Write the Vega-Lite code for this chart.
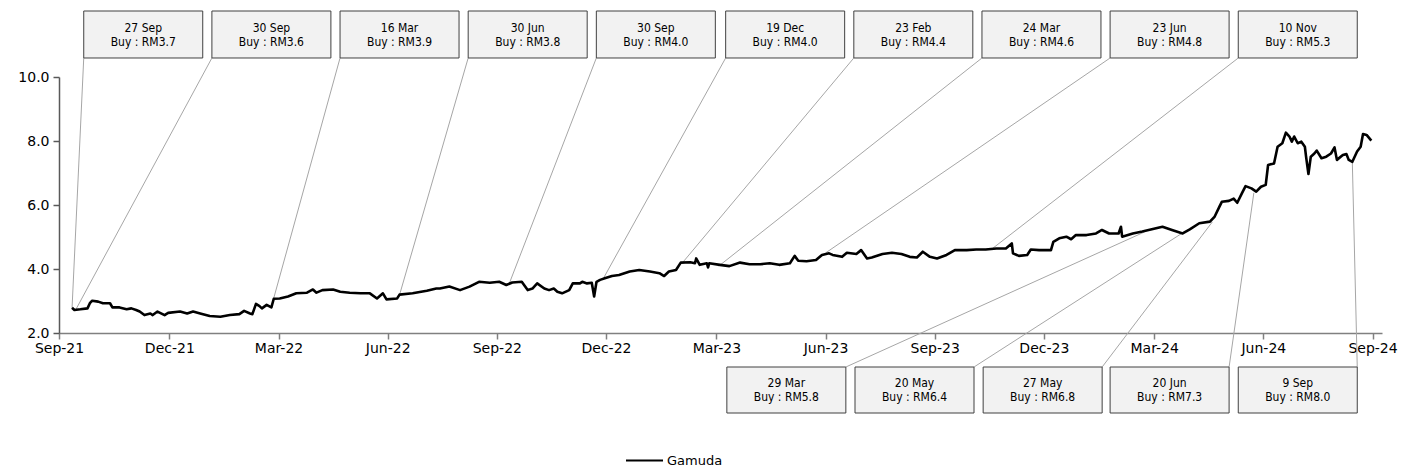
{
  "$schema": "https://vega.github.io/schema/vega-lite/v6.json",
  "width": 1323,
  "height": 256,
  "autosize": {"type": "none"},
  "padding": {"left": 59, "top": 77, "right": 21, "bottom": 135},
  "background": "white",
  "config": {"view": {"stroke": null}, "font": "DejaVu Sans"},
  "datasets": {
    "prices": [
      {"date": "2021-09-27", "price": 2.79}, {"date": "2021-09-29", "price": 2.72}, {"date": "2021-10-04", "price": 2.74},
      {"date": "2021-10-10", "price": 2.77}, {"date": "2021-10-12", "price": 2.93}, {"date": "2021-10-14", "price": 3.01},
      {"date": "2021-10-19", "price": 2.98}, {"date": "2021-10-23", "price": 2.93}, {"date": "2021-10-29", "price": 2.93},
      {"date": "2021-10-31", "price": 2.80}, {"date": "2021-11-06", "price": 2.80}, {"date": "2021-11-12", "price": 2.74},
      {"date": "2021-11-16", "price": 2.77}, {"date": "2021-11-20", "price": 2.72}, {"date": "2021-11-23", "price": 2.67},
      {"date": "2021-11-27", "price": 2.56}, {"date": "2021-12-02", "price": 2.61}, {"date": "2021-12-04", "price": 2.56},
      {"date": "2021-12-08", "price": 2.67}, {"date": "2021-12-14", "price": 2.56}, {"date": "2021-12-17", "price": 2.63},
      {"date": "2021-12-27", "price": 2.67}, {"date": "2022-01-02", "price": 2.61}, {"date": "2022-01-07", "price": 2.67},
      {"date": "2022-01-13", "price": 2.61}, {"date": "2022-01-21", "price": 2.53}, {"date": "2022-01-30", "price": 2.51},
      {"date": "2022-02-07", "price": 2.56}, {"date": "2022-02-15", "price": 2.59}, {"date": "2022-02-19", "price": 2.69},
      {"date": "2022-02-24", "price": 2.61}, {"date": "2022-02-26", "price": 2.59}, {"date": "2022-03-01", "price": 2.91},
      {"date": "2022-03-04", "price": 2.84}, {"date": "2022-03-06", "price": 2.77}, {"date": "2022-03-10", "price": 2.88},
      {"date": "2022-03-14", "price": 2.80}, {"date": "2022-03-16", "price": 3.07}, {"date": "2022-03-21", "price": 3.08},
      {"date": "2022-03-28", "price": 3.14}, {"date": "2022-04-04", "price": 3.24}, {"date": "2022-04-13", "price": 3.26},
      {"date": "2022-04-18", "price": 3.36}, {"date": "2022-04-21", "price": 3.26}, {"date": "2022-04-26", "price": 3.34},
      {"date": "2022-05-05", "price": 3.36}, {"date": "2022-05-11", "price": 3.29}, {"date": "2022-05-19", "price": 3.26},
      {"date": "2022-05-28", "price": 3.24}, {"date": "2022-06-05", "price": 3.24}, {"date": "2022-06-11", "price": 3.08},
      {"date": "2022-06-16", "price": 3.24}, {"date": "2022-06-19", "price": 3.05}, {"date": "2022-06-28", "price": 3.08},
      {"date": "2022-06-30", "price": 3.20}, {"date": "2022-07-11", "price": 3.24}, {"date": "2022-07-23", "price": 3.32},
      {"date": "2022-07-31", "price": 3.39}, {"date": "2022-08-03", "price": 3.39}, {"date": "2022-08-11", "price": 3.45},
      {"date": "2022-08-20", "price": 3.34}, {"date": "2022-08-28", "price": 3.45}, {"date": "2022-09-05", "price": 3.60},
      {"date": "2022-09-14", "price": 3.57}, {"date": "2022-09-22", "price": 3.60}, {"date": "2022-09-28", "price": 3.50},
      {"date": "2022-10-03", "price": 3.58}, {"date": "2022-10-11", "price": 3.60}, {"date": "2022-10-16", "price": 3.34},
      {"date": "2022-10-20", "price": 3.39}, {"date": "2022-10-24", "price": 3.55}, {"date": "2022-10-30", "price": 3.39},
      {"date": "2022-11-03", "price": 3.34}, {"date": "2022-11-07", "price": 3.39}, {"date": "2022-11-10", "price": 3.29},
      {"date": "2022-11-14", "price": 3.24}, {"date": "2022-11-20", "price": 3.34}, {"date": "2022-11-23", "price": 3.55},
      {"date": "2022-11-29", "price": 3.55}, {"date": "2022-12-01", "price": 3.60}, {"date": "2022-12-05", "price": 3.55},
      {"date": "2022-12-09", "price": 3.57}, {"date": "2022-12-11", "price": 3.14}, {"date": "2022-12-13", "price": 3.60},
      {"date": "2022-12-16", "price": 3.66}, {"date": "2022-12-20", "price": 3.71}, {"date": "2022-12-26", "price": 3.78},
      {"date": "2023-01-01", "price": 3.81}, {"date": "2023-01-10", "price": 3.92}, {"date": "2023-01-18", "price": 3.97},
      {"date": "2023-01-27", "price": 3.92}, {"date": "2023-02-04", "price": 3.87}, {"date": "2023-02-08", "price": 3.78},
      {"date": "2023-02-12", "price": 3.92}, {"date": "2023-02-18", "price": 3.97}, {"date": "2023-02-22", "price": 4.20},
      {"date": "2023-03-02", "price": 4.21}, {"date": "2023-03-06", "price": 4.18}, {"date": "2023-03-07", "price": 4.33},
      {"date": "2023-03-10", "price": 4.13}, {"date": "2023-03-16", "price": 4.18}, {"date": "2023-03-17", "price": 4.05},
      {"date": "2023-03-18", "price": 4.18}, {"date": "2023-03-27", "price": 4.13}, {"date": "2023-04-04", "price": 4.09},
      {"date": "2023-04-13", "price": 4.20}, {"date": "2023-04-21", "price": 4.15}, {"date": "2023-04-30", "price": 4.15},
      {"date": "2023-05-08", "price": 4.18}, {"date": "2023-05-16", "price": 4.13}, {"date": "2023-05-25", "price": 4.18},
      {"date": "2023-05-29", "price": 4.41}, {"date": "2023-06-01", "price": 4.26}, {"date": "2023-06-08", "price": 4.24},
      {"date": "2023-06-16", "price": 4.28}, {"date": "2023-06-21", "price": 4.44}, {"date": "2023-06-27", "price": 4.49},
      {"date": "2023-06-30", "price": 4.44}, {"date": "2023-07-08", "price": 4.38}, {"date": "2023-07-12", "price": 4.51},
      {"date": "2023-07-20", "price": 4.47}, {"date": "2023-07-24", "price": 4.59}, {"date": "2023-07-29", "price": 4.33},
      {"date": "2023-08-02", "price": 4.36}, {"date": "2023-08-11", "price": 4.47}, {"date": "2023-08-19", "price": 4.51},
      {"date": "2023-08-27", "price": 4.47}, {"date": "2023-09-03", "price": 4.38}, {"date": "2023-09-09", "price": 4.36},
      {"date": "2023-09-14", "price": 4.54}, {"date": "2023-09-20", "price": 4.38}, {"date": "2023-09-26", "price": 4.33},
      {"date": "2023-10-04", "price": 4.44}, {"date": "2023-10-11", "price": 4.59}, {"date": "2023-10-21", "price": 4.59},
      {"date": "2023-10-29", "price": 4.61}, {"date": "2023-11-06", "price": 4.61}, {"date": "2023-11-15", "price": 4.64},
      {"date": "2023-11-23", "price": 4.64}, {"date": "2023-11-28", "price": 4.80}, {"date": "2023-11-29", "price": 4.49},
      {"date": "2023-12-04", "price": 4.41}, {"date": "2023-12-11", "price": 4.44}, {"date": "2023-12-14", "price": 4.61},
      {"date": "2023-12-21", "price": 4.59}, {"date": "2023-12-31", "price": 4.59}, {"date": "2024-01-02", "price": 4.85},
      {"date": "2024-01-07", "price": 4.96}, {"date": "2024-01-13", "price": 5.01}, {"date": "2024-01-17", "price": 4.93},
      {"date": "2024-01-21", "price": 5.06}, {"date": "2024-01-30", "price": 5.06}, {"date": "2024-02-07", "price": 5.11},
      {"date": "2024-02-12", "price": 5.22}, {"date": "2024-02-18", "price": 5.11}, {"date": "2024-02-26", "price": 5.11},
      {"date": "2024-02-28", "price": 5.32}, {"date": "2024-02-29", "price": 5.01}, {"date": "2024-03-09", "price": 5.11},
      {"date": "2024-03-17", "price": 5.17}, {"date": "2024-03-25", "price": 5.24}, {"date": "2024-04-03", "price": 5.32},
      {"date": "2024-04-11", "price": 5.22}, {"date": "2024-04-20", "price": 5.11}, {"date": "2024-04-26", "price": 5.24},
      {"date": "2024-05-04", "price": 5.43}, {"date": "2024-05-13", "price": 5.48}, {"date": "2024-05-17", "price": 5.64},
      {"date": "2024-05-21", "price": 5.95}, {"date": "2024-05-23", "price": 6.10}, {"date": "2024-05-29", "price": 6.13},
      {"date": "2024-06-02", "price": 6.20}, {"date": "2024-06-05", "price": 6.07}, {"date": "2024-06-09", "price": 6.37},
      {"date": "2024-06-12", "price": 6.59}, {"date": "2024-06-17", "price": 6.52}, {"date": "2024-06-21", "price": 6.42},
      {"date": "2024-06-25", "price": 6.57}, {"date": "2024-06-29", "price": 6.63}, {"date": "2024-07-01", "price": 7.25},
      {"date": "2024-07-06", "price": 7.30}, {"date": "2024-07-09", "price": 7.82}, {"date": "2024-07-13", "price": 7.93},
      {"date": "2024-07-16", "price": 8.26}, {"date": "2024-07-19", "price": 8.14}, {"date": "2024-07-21", "price": 7.98},
      {"date": "2024-07-23", "price": 8.14}, {"date": "2024-07-26", "price": 7.93}, {"date": "2024-07-29", "price": 7.98},
      {"date": "2024-08-01", "price": 7.82}, {"date": "2024-08-02", "price": 7.51}, {"date": "2024-08-04", "price": 6.97},
      {"date": "2024-08-06", "price": 7.51}, {"date": "2024-08-09", "price": 7.61}, {"date": "2024-08-11", "price": 7.70},
      {"date": "2024-08-15", "price": 7.46}, {"date": "2024-08-19", "price": 7.51}, {"date": "2024-08-23", "price": 7.61},
      {"date": "2024-08-26", "price": 7.80}, {"date": "2024-08-28", "price": 7.41}, {"date": "2024-09-02", "price": 7.56},
      {"date": "2024-09-05", "price": 7.59}, {"date": "2024-09-07", "price": 7.41}, {"date": "2024-09-10", "price": 7.35},
      {"date": "2024-09-14", "price": 7.67}, {"date": "2024-09-17", "price": 7.82}, {"date": "2024-09-19", "price": 8.22},
      {"date": "2024-09-22", "price": 8.19}, {"date": "2024-09-26", "price": 8.01}
    ],
    "notes": [
      {"row": "top", "day": "27 Sep", "call": "Buy : RM3.7", "pointDate": "2021-09-27", "pointPrice": 2.78, "boxDate": "2021-11-26"},
      {"row": "top", "day": "30 Sep", "call": "Buy : RM3.6", "pointDate": "2021-09-30", "pointPrice": 2.72, "boxDate": "2022-03-14"},
      {"row": "top", "day": "16 Mar", "call": "Buy : RM3.9", "pointDate": "2022-03-16", "pointPrice": 3.09, "boxDate": "2022-06-30"},
      {"row": "top", "day": "30 Jun", "call": "Buy : RM3.8", "pointDate": "2022-06-30", "pointPrice": 3.19, "boxDate": "2022-10-16"},
      {"row": "top", "day": "30 Sep", "call": "Buy : RM4.0", "pointDate": "2022-09-30", "pointPrice": 3.50, "boxDate": "2023-02-01"},
      {"row": "top", "day": "19 Dec", "call": "Buy : RM4.0", "pointDate": "2022-12-19", "pointPrice": 3.72, "boxDate": "2023-05-21"},
      {"row": "top", "day": "23 Feb", "call": "Buy : RM4.4", "pointDate": "2023-02-24", "pointPrice": 4.22, "boxDate": "2023-09-06"},
      {"row": "top", "day": "24 Mar", "call": "Buy : RM4.6", "pointDate": "2023-03-26", "pointPrice": 4.09, "boxDate": "2023-12-23"},
      {"row": "top", "day": "23 Jun", "call": "Buy : RM4.8", "pointDate": "2023-06-24", "pointPrice": 4.50, "boxDate": "2024-04-09"},
      {"row": "top", "day": "10 Nov", "call": "Buy : RM5.3", "pointDate": "2023-11-11", "pointPrice": 4.62, "boxDate": "2024-07-26"},
      {"row": "bottom", "day": "29 Mar", "call": "Buy : RM5.8", "pointDate": "2024-03-19", "pointPrice": 5.16, "boxDate": "2023-05-22"},
      {"row": "bottom", "day": "20 May", "call": "Buy : RM6.4", "pointDate": "2024-04-20", "pointPrice": 5.13, "boxDate": "2023-09-07"},
      {"row": "bottom", "day": "27 May", "call": "Buy : RM6.8", "pointDate": "2024-05-15", "pointPrice": 5.47, "boxDate": "2023-12-24"},
      {"row": "bottom", "day": "20 Jun", "call": "Buy : RM7.3", "pointDate": "2024-06-19", "pointPrice": 6.38, "boxDate": "2024-04-09"},
      {"row": "bottom", "day": "9 Sep", "call": "Buy : RM8.0", "pointDate": "2024-09-10", "pointPrice": 7.33, "boxDate": "2024-07-26"}
    ]
  },
  "layer": [
    {
      "data": {"name": "notes"},
      "transform": [{"filter": "datum.row === 'top'"}],
      "mark": {"type": "rule", "color": "#a6a6a6", "strokeWidth": 1, "x2Offset": -59.5},
      "encoding": {
        "x": {"field": "pointDate", "type": "temporal", "title": null},
        "y": {"field": "pointPrice", "type": "quantitative", "title": null},
        "x2": {"field": "boxDate"},
        "y2": {"datum": 10.594}
      }
    },
    {
      "data": {"name": "notes"},
      "transform": [{"filter": "datum.row === 'bottom'"}],
      "mark": {"type": "rule", "color": "#a6a6a6", "strokeWidth": 1, "x2Offset": 59.5},
      "encoding": {
        "x": {"field": "pointDate", "type": "temporal", "title": null},
        "y": {"field": "pointPrice", "type": "quantitative", "title": null},
        "x2": {"field": "boxDate"},
        "y2": {"datum": 0.9375}
      }
    },
    {
      "data": {"name": "prices"},
      "mark": {"type": "line", "strokeWidth": 2.6, "strokeJoin": "round"},
      "encoding": {
        "x": {
          "field": "date", "type": "temporal", "title": null,
          "scale": {"type": "utc", "domain": [{"year": 2021, "month": 9, "date": 16, "utc": true}, {"year": 2024, "month": 10, "date": 5, "utc": true}]},
          "axis": {
            "title": null, "format": "%b-%y", "grid": false,
            "values": [
              {"year": 2021, "month": 9, "date": 16, "utc": true}, {"year": 2021, "month": 12, "date": 18, "utc": true},
              {"year": 2022, "month": 3, "date": 20, "utc": true}, {"year": 2022, "month": 6, "date": 20, "utc": true},
              {"year": 2022, "month": 9, "date": 20, "utc": true}, {"year": 2022, "month": 12, "date": 21, "utc": true},
              {"year": 2023, "month": 3, "date": 24, "utc": true}, {"year": 2023, "month": 6, "date": 24, "utc": true},
              {"year": 2023, "month": 9, "date": 24, "utc": true}, {"year": 2023, "month": 12, "date": 25, "utc": true},
              {"year": 2024, "month": 3, "date": 27, "utc": true}, {"year": 2024, "month": 6, "date": 27, "utc": true},
              {"year": 2024, "month": 9, "date": 27, "utc": true}
            ],
            "domainColor": "#808080", "domainWidth": 1.5, "tickColor": "#808080", "tickWidth": 1.5, "tickSize": 6,
            "labelFont": "DejaVu Sans", "labelFontSize": 14, "labelColor": "#000000", "labelPadding": 2,
            "labelFlush": false, "labelOverlap": false
          }
        },
        "y": {
          "field": "price", "type": "quantitative", "title": null,
          "scale": {"domain": [2, 10], "nice": false, "zero": false},
          "axis": {
            "title": null, "values": [2, 4, 6, 8, 10], "format": ".1f", "grid": false,
            "domainColor": "#595959", "domainWidth": 1.5, "tickColor": "#595959", "tickWidth": 1.5, "tickSize": 6,
            "labelFont": "DejaVu Sans", "labelFontSize": 14, "labelColor": "#000000", "labelPadding": 4
          }
        },
        "color": {
          "datum": "Gamuda", "type": "nominal",
          "scale": {"range": ["#000000"]},
          "legend": {
            "title": null, "orient": "none", "legendX": 566, "legendY": 364,
            "symbolType": "stroke", "symbolSize": 1369, "symbolStrokeWidth": 2,
            "labelFont": "DejaVu Sans", "labelFontSize": 13, "labelColor": "#000000", "labelOffset": 3, "padding": 0
          }
        }
      }
    },
    {
      "data": {"name": "notes"},
      "transform": [{"filter": "datum.row === 'top'"}],
      "mark": {"type": "rect", "fill": "#f2f2f2", "stroke": "#404040", "strokeWidth": 1, "xOffset": -59.5, "x2Offset": 59.5},
      "encoding": {
        "x": {"field": "boxDate", "type": "temporal", "title": null},
        "x2": {"field": "boxDate"},
        "y": {"datum": 12.0625},
        "y2": {"datum": 10.594}
      }
    },
    {
      "data": {"name": "notes"},
      "transform": [{"filter": "datum.row === 'bottom'"}],
      "mark": {"type": "rect", "fill": "#f2f2f2", "stroke": "#404040", "strokeWidth": 1, "xOffset": -59.5, "x2Offset": 59.5},
      "encoding": {
        "x": {"field": "boxDate", "type": "temporal", "title": null},
        "x2": {"field": "boxDate"},
        "y": {"datum": 0.9375},
        "y2": {"datum": -0.5}
      }
    },
    {
      "data": {"name": "notes"},
      "transform": [{"filter": "datum.row === 'top'"}],
      "mark": {"type": "text", "font": "'DejaVu Sans Condensed', 'Liberation Sans Narrow', 'DejaVu Sans'", "fontSize": 12, "color": "#000000", "align": "center", "baseline": "middle", "dy": -7},
      "encoding": {
        "x": {"field": "boxDate", "type": "temporal", "title": null},
        "y": {"datum": 11.328},
        "text": {"field": "day"}
      }
    },
    {
      "data": {"name": "notes"},
      "transform": [{"filter": "datum.row === 'top'"}],
      "mark": {"type": "text", "font": "'DejaVu Sans Condensed', 'Liberation Sans Narrow', 'DejaVu Sans'", "fontSize": 12, "color": "#000000", "align": "center", "baseline": "middle", "dy": 7},
      "encoding": {
        "x": {"field": "boxDate", "type": "temporal", "title": null},
        "y": {"datum": 11.328},
        "text": {"field": "call"}
      }
    },
    {
      "data": {"name": "notes"},
      "transform": [{"filter": "datum.row === 'bottom'"}],
      "mark": {"type": "text", "font": "'DejaVu Sans Condensed', 'Liberation Sans Narrow', 'DejaVu Sans'", "fontSize": 12, "color": "#000000", "align": "center", "baseline": "middle", "dy": -7},
      "encoding": {
        "x": {"field": "boxDate", "type": "temporal", "title": null},
        "y": {"datum": 0.219},
        "text": {"field": "day"}
      }
    },
    {
      "data": {"name": "notes"},
      "transform": [{"filter": "datum.row === 'bottom'"}],
      "mark": {"type": "text", "font": "'DejaVu Sans Condensed', 'Liberation Sans Narrow', 'DejaVu Sans'", "fontSize": 12, "color": "#000000", "align": "center", "baseline": "middle", "dy": 7},
      "encoding": {
        "x": {"field": "boxDate", "type": "temporal", "title": null},
        "y": {"datum": 0.219},
        "text": {"field": "call"}
      }
    }
  ]
}
